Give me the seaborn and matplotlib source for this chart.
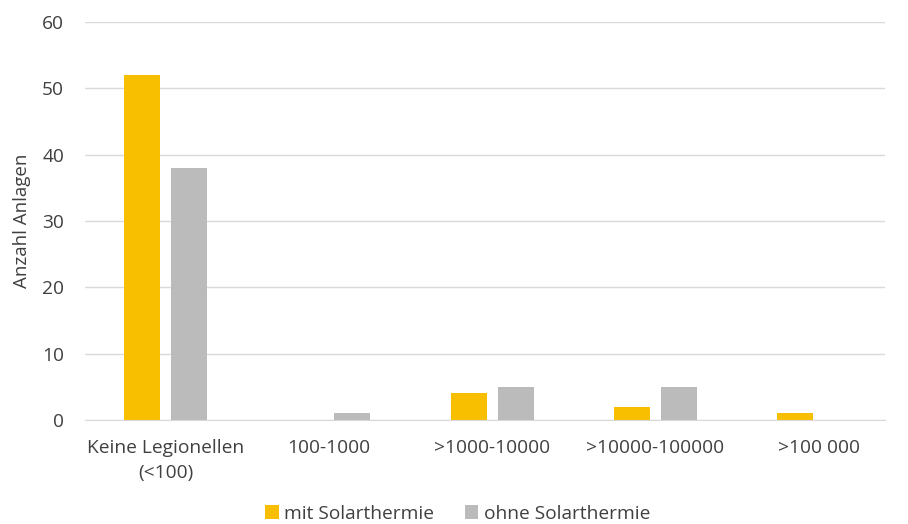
import pandas as pd
import matplotlib.pyplot as plt
import seaborn as sns

# Werte
kategorien = ['Keine Legionellen\n(<100)', '100-1000', '>1000-10000', '>10000-100000', '>100 000']
mit_solar = [52, 0, 4, 2, 1]
ohne_solar = [38, 1, 5, 5, 0]
serien = ['mit Solarthermie', 'ohne Solarthermie']
farben = ['#F8BE00', '#BBBBBB']

df = pd.DataFrame({
    'Kategorie': kategorien * 2,
    'Anzahl': mit_solar + ohne_solar,
    'Serie': [serien[0]] * len(kategorien) + [serien[1]] * len(kategorien),
})

sns.set_style('white')
plt.rcParams['font.family'] = ['Open Sans', 'DejaVu Sans']
text_col = '#404040'

fig = plt.figure(figsize=(9.08, 5.24), dpi=100)
ax = fig.add_axes([85 / 908, 1 - 420 / 524, 800 / 908, 398 / 524])

sns.barplot(data=df, x='Kategorie', y='Anzahl', hue='Serie', palette=farben,
            saturation=1, width=0.576, gap=0.234, linewidth=0, ax=ax, legend=True)

ax.set_ylim(0, 60)
ax.set_xlim(-0.493, 4.406)
ax.set_yticks(range(0, 61, 10))
ax.yaxis.grid(True, color='#D9D9D9', linewidth=1)
ax.set_axisbelow(True)
for s in ['top', 'right', 'left']:
    ax.spines[s].set_visible(False)
ax.spines['bottom'].set_color('#D9D9D9')
ax.tick_params(axis='both', length=0, labelsize=13.8, colors=text_col)
ax.tick_params(axis='x', pad=14)
ax.tick_params(axis='y', pad=15)
for lbl in ax.get_xticklabels():
    lbl.set_linespacing(1.45)
ax.set_xlabel('')
ax.set_ylabel('Anzahl Anlagen', fontsize=13.5, color=text_col, labelpad=8)

ax.legend(loc='center', bbox_to_anchor=(0.466, -0.235), ncol=2, frameon=False,
          fontsize=13.8, handlelength=0.7, handleheight=0.7, handletextpad=0.3,
          columnspacing=1.6, labelcolor=text_col)

fig.savefig('out.png', dpi=100)
